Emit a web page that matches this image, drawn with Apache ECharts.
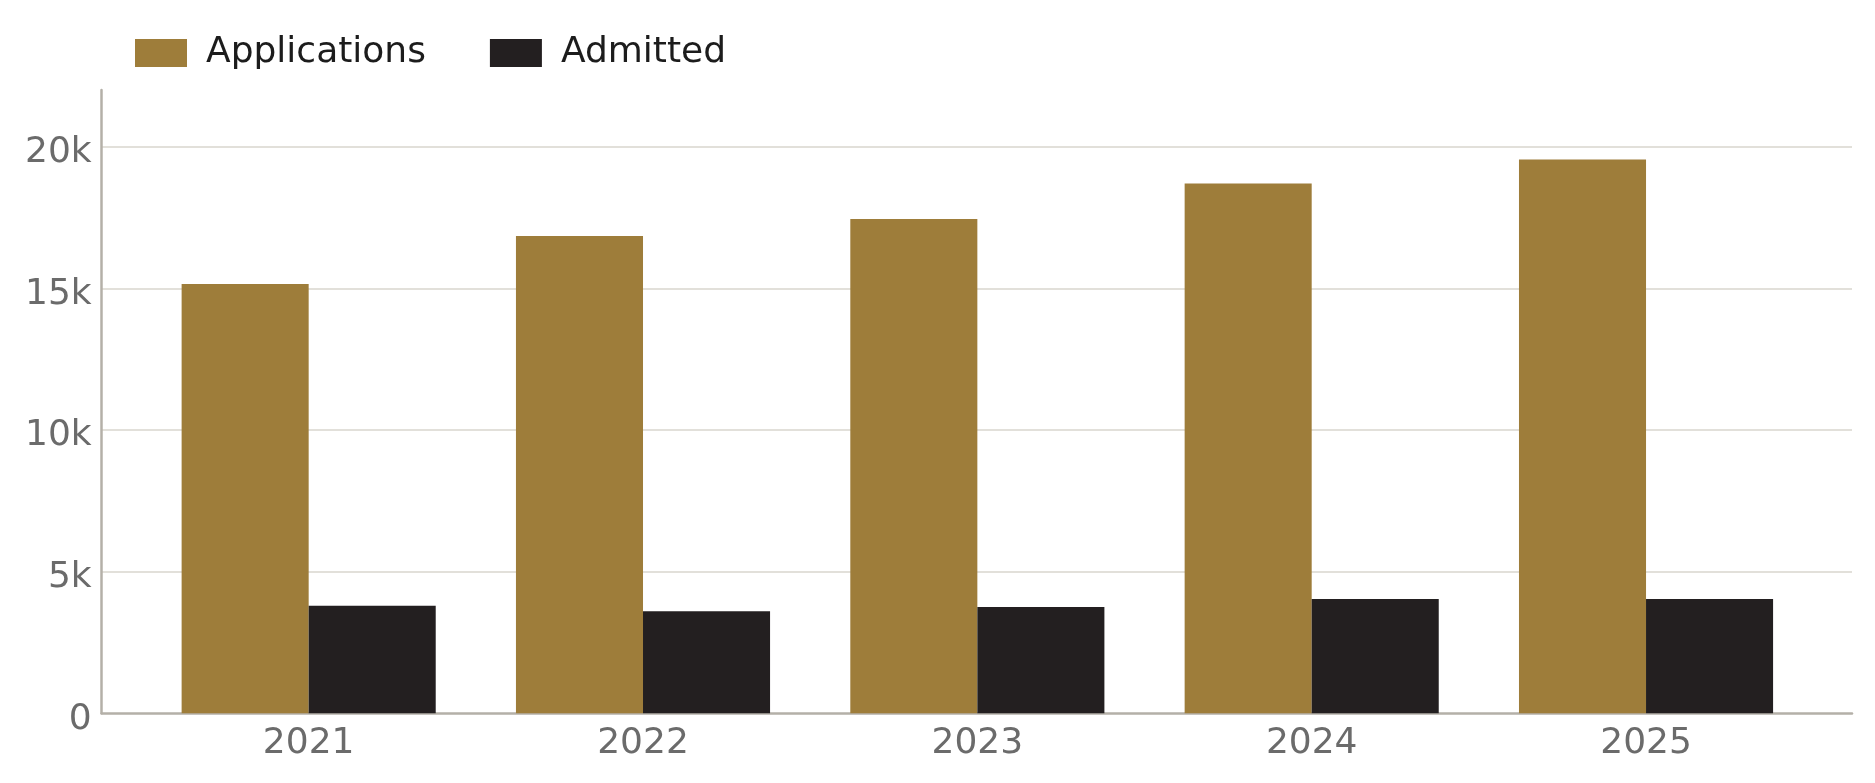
<!DOCTYPE html>
<html>
<head>
<meta charset="utf-8">
<title>Applications and Admitted</title>
<script src="https://cdn.jsdelivr.net/npm/echarts@6/dist/echarts.min.js"></script>
<style>
  html, body { margin: 0; padding: 0; background: #ffffff; }
  #chart { width: 1875px; height: 783px; }
</style>
</head>
<body>
<div id="chart"></div>
<script>
'use strict';

const YEARS = ['2021', '2022', '2023', '2024', '2025'];
const APPLICATIONS = [15150, 16850, 17450, 18700, 19550];
const ADMITTED = [3800, 3600, 3750, 4030, 4030];
const SERIES_NAMES = ['Applications', 'Admitted'];

const Y_MAX = 22000;
const Y_STEP = 5000;

const COLORS = ['#9e7d3a', '#231f20'];
const AXIS_LINE_COLOR = '#b4b0a8';
const GRID_LINE_COLOR = '#e2e0da';
const LABEL_COLOR = '#6b6b6b';
const FONT = 'DejaVu Sans';

function formatThousands(v) {
  if (v === 0) return '0';
  return (v / 1000) + 'k';
}

// frame grid (axis lines, split lines) is wider than the bar grid,
// bars sit inside with some padding on both ends
const GRID_FRAME = {left: 101.7, right: 23, top: 90, bottom: 69.7};
const GRID_BARS = {left: 141.5, right: 61.8, top: 90, bottom: 69.7};

const chart = echarts.init(document.getElementById('chart'), null, {renderer: 'canvas'});

let options = {
  animation: false,
  color: COLORS,
  textStyle: {fontFamily: FONT},
  legend: {
    data: SERIES_NAMES,
    icon: 'rect',
    left: 135,
    top: 35,
    padding: 0,
    itemWidth: 52,
    itemHeight: 28,
    itemGap: 64,
    textStyle: {fontSize: 36, color: '#1c1c1c', fontFamily: FONT, padding: [0, 0, 0, 14]}
  },
  grid: [
    Object.assign({containLabel: false}, GRID_FRAME),
    Object.assign({containLabel: false}, GRID_BARS)
  ],
  xAxis: [
    {
      gridIndex: 0, type: 'value', min: 0, max: 1,
      axisLine: {show: true, lineStyle: {color: AXIS_LINE_COLOR, width: 2.5}},
      axisTick: {show: false}, axisLabel: {show: false}, splitLine: {show: false}
    },
    {
      gridIndex: 1, type: 'category', data: YEARS,
      axisLine: {show: false}, axisTick: {show: false},
      axisLabel: {fontSize: 36, color: LABEL_COLOR, fontFamily: FONT, margin: 12}
    }
  ],
  yAxis: [
    {
      gridIndex: 0, type: 'value', min: 0, max: Y_MAX, interval: Y_STEP,
      axisLine: {show: true, lineStyle: {color: AXIS_LINE_COLOR, width: 2.5}},
      axisTick: {show: false},
      // labels sit a little below their grid line, as in the source
      axisLabel: {fontSize: 36, color: LABEL_COLOR, fontFamily: FONT, margin: 10,
        verticalAlign: 'top', lineHeight: 12,
        showMaxLabel: false, formatter: formatThousands},
      splitLine: {show: true, showMinLine: false, showMaxLine: false,
        lineStyle: {color: GRID_LINE_COLOR, width: 2}}
    },
    {
      gridIndex: 1, type: 'value', min: 0, max: Y_MAX, interval: Y_STEP, show: false,
      splitLine: {show: false}
    }
  ],
  series: [
    {name: SERIES_NAMES[0], type: 'bar', xAxisIndex: 1, yAxisIndex: 1,
      data: APPLICATIONS, barGap: '0%', barCategoryGap: '24%'},
    {name: SERIES_NAMES[1], type: 'bar', xAxisIndex: 1, yAxisIndex: 1,
      data: ADMITTED, barGap: '0%', barCategoryGap: '24%'}
  ]
};

chart.setOption(options);
</script>
</body>
</html>
